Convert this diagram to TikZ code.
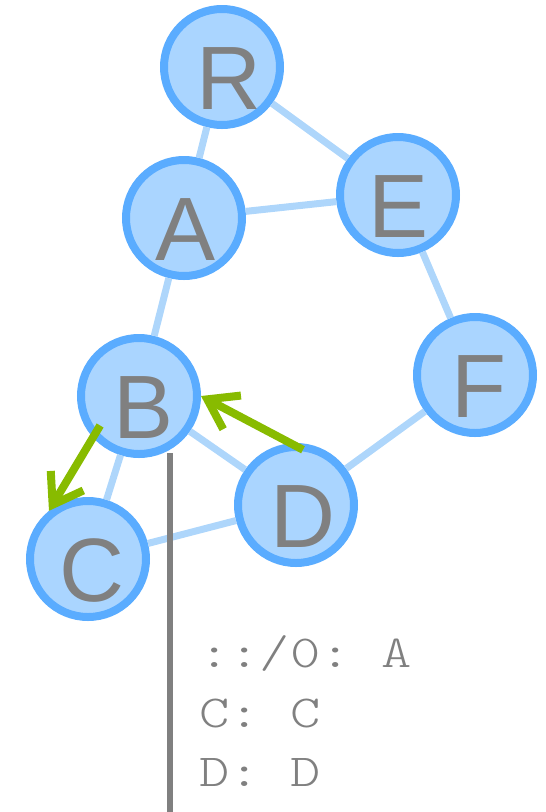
\documentclass[tikz,border=0pt]{standalone}
\usepackage{fontspec}
\setmainfont{Liberation Sans}
\newfontfamily\codefont{lmmonolt10-regular}[Extension=.otf]
\usetikzlibrary{arrows.meta,positioning}
\definecolor{NodeFill}{RGB}{170,213,255}
\definecolor{NodeRim}{RGB}{90,172,255}
\definecolor{EdgeBlue}{RGB}{174,214,251}
\definecolor{Pointer}{RGB}{136,187,0}
\definecolor{Ink}{RGB}{128,128,128}
% letter pushed right by #1 inside its circle
\newcommand{\nudged}[2]{\hspace*{#1}\hspace*{#1}\makebox[0pt]{#2}}

\begin{document}
\begin{tikzpicture}[x=1pt,y=-1pt,
    vertex/.style={circle,draw=NodeRim,fill=NodeFill,line width=8pt,
      minimum size=116pt,inner sep=0pt,text=Ink,
      font=\fontsize{90}{90}\selectfont,text height=84pt,text depth=0pt},
    link/.style={EdgeBlue,line width=7pt},
    pointer/.style={Pointer,line width=8pt,-{Straight Barb[length=28pt,width=38pt]}},
    divider/.style={Ink,line width=6pt},
    code/.style={text=Ink,font=\codefont\fontsize{45.8}{60}\selectfont\frenchspacing,
      inner sep=0pt,anchor=base west,xscale=1.26,transform shape}]
  \useasboundingbox (0,0) rectangle (546,812);
  % graph
  \node[vertex] (R) at (222,67) {\nudged{7pt}{R}};
  \node[vertex] (A) at (184,218) {\nudged{2pt}{A}};
  \node[vertex] (E) at (398,195) {\nudged{1pt}{E}};
  \node[vertex] (B) at (139,396) {\nudged{5pt}{B}};
  \node[vertex] (F) at (475,375) {\nudged{4pt}{F}};
  \node[vertex] (D) at (296,505) {\nudged{7pt}{D}};
  \node[vertex] (C) at (88,559) {\nudged{4pt}{C}};
  \foreach \u/\v in {R/A,R/E,A/E,A/B,E/F,F/D,B/D,B/C,C/D}
    \draw[link] (\u) -- (\v);
  % moves
  \draw[pointer,shorten <=-14pt] (D.95) -- (B.0);
  \draw[pointer,shorten <=-14pt] (B.222) -- (C.129);
  % table
  \coordinate (divtop) at (170,453);
  \coordinate (divbot) at (170,812);
  \draw[divider] (divtop) -- (divbot);
  \foreach \txt [count=\i] in {{::/0: A},{C: C},{D: D}}
    \node[code] (line\i) at (199,608+59.5*\i) {\txt};
\end{tikzpicture}
\end{document}
